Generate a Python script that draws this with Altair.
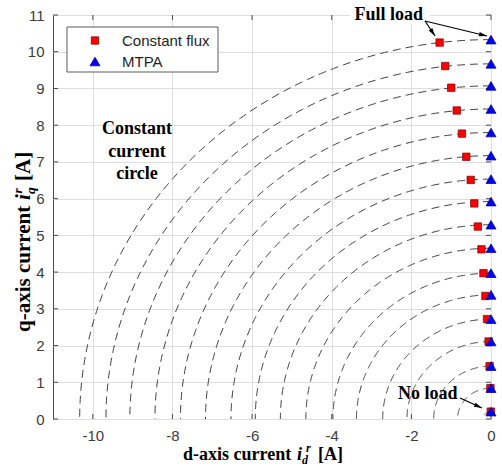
import math
import altair as alt
import numpy as np
import pandas as pd

# ---------------- values ----------------
series_names = ["Constant flux", "MTPA"]
mtpa_id = [0.0, 0.0, 0.0, 0.0, 0.0, 0.0, 0.0, 0.0, 0.0, 0.0, 0.0, 0.0, 0.0, 0.0, 0.0, 0.0, 0.0]
mtpa_iq = [0.20, 0.84, 1.44, 2.11, 2.72, 3.38, 3.97, 4.65, 5.29, 5.92, 6.53, 7.17, 7.80, 8.44, 9.07, 9.67, 10.33]
cf_id = [-0.005, -0.015, -0.035, -0.06, -0.10, -0.14, -0.19, -0.24, -0.33, -0.42, -0.51, -0.62, -0.73, -0.86, -1.00, -1.15, -1.29]
cf_iq = [0.20, 0.84, 1.44, 2.11, 2.72, 3.35, 3.97, 4.62, 5.24, 5.87, 6.51, 7.14, 7.77, 8.40, 9.02, 9.61, 10.25]
circle_radii = [0.20, 0.84, 1.44, 2.11, 2.72, 3.38, 3.97, 4.65, 5.29, 5.92, 6.53, 7.17, 7.80, 8.44, 9.07, 9.67, 10.33]
x_tick_values = [-10, -8, -6, -4, -2, 0]
y_tick_values = [0, 1, 2, 3, 4, 5, 6, 7, 8, 9, 10, 11]
x_domain = [-11, 0]
y_domain = [0, 11]

# ---------------- layout ----------------
W, H = 438, 404
L, T, R, B = 53, 15, 11, 47
FRAME = "#4a4a4a"
SERIF = "Liberation Serif"
SANS = "Liberation Sans"

# tables built from the arrays above
cf_df = pd.DataFrame({"id": cf_id, "iq": cf_iq, "s": series_names[0]})
mt_df = pd.DataFrame({"id": mtpa_id, "iq": mtpa_iq, "s": series_names[1]})
angles = np.linspace(0.0, 90.0, 181)
rows = []
for r in circle_radii:
    for a in angles:
        t = math.radians(a)
        rows.append({"r": r, "t": a, "id": -r * math.sin(t), "iq": r * math.cos(t)})
circ_df = pd.DataFrame(rows)
xt_df = pd.DataFrame({"id": x_tick_values})
yt_df = pd.DataFrame({"iq": y_tick_values})
one = pd.DataFrame({"k": [0]})

xs = alt.Scale(domain=x_domain, nice=False, zero=False)
ys = alt.Scale(domain=y_domain, nice=False, zero=False)

axis_common = dict(grid=True, ticks=False, domain=False, labelFlush=False,
                   labelOverlap=False, title=None, gridColor="#dedede",
                   gridWidth=1, labelFont=SANS, labelFontSize=15,
                   labelColor="#3c3c3c", labelExpr="'' + datum.value")
x_axis = alt.Axis(values=x_tick_values, labelPadding=9, **axis_common)
y_axis = alt.Axis(values=y_tick_values, labelPadding=9, **axis_common)
X = alt.X("id:Q", scale=xs, axis=x_axis)
Y = alt.Y("iq:Q", scale=ys, axis=y_axis)

circles = alt.Chart(circ_df).mark_line(
    strokeDash=[8, 5], color="#404040", strokeWidth=1
).encode(x=X, y=Y, detail="r:N", order="t:Q")

ticks = [
    alt.Chart(xt_df).mark_rule(color=FRAME, strokeWidth=1).encode(x=X, y=alt.value(H), y2=alt.value(H - 5)),
    alt.Chart(xt_df).mark_rule(color=FRAME, strokeWidth=1).encode(x=X, y=alt.value(0), y2=alt.value(5)),
    alt.Chart(yt_df).mark_rule(color=FRAME, strokeWidth=1).encode(y=Y, x=alt.value(0), x2=alt.value(5)),
    alt.Chart(yt_df).mark_rule(color=FRAME, strokeWidth=1).encode(y=Y, x=alt.value(W), x2=alt.value(W - 5)),
]

SQ_SIZE, TRI_SIZE = 55, 100
squares = alt.Chart(cf_df).mark_point(
    shape="square", filled=True, size=SQ_SIZE, color="#ff0000", stroke="#7a0000",
    strokeWidth=0.7, opacity=1,
).encode(x=X, y=Y)

triangles = alt.Chart(mt_df).mark_point(
    shape="triangle-up", filled=True, size=TRI_SIZE, color="#0000ff", stroke="#000070",
    strokeWidth=0.7, opacity=1,
).encode(x=X, y=Y)


def txt(s, x, y, **kw):
    return alt.Chart(one).mark_text(text=s, **kw).encode(
        x=alt.value(x - L), y=alt.value(y - T))


def rect(x0, y0, x1, y1, **kw):
    return alt.Chart(one).mark_rect(**kw).encode(
        x=alt.value(x0 - L), x2=alt.value(x1 - L), y=alt.value(y0 - T), y2=alt.value(y1 - T))


HEAD = "M0,0L0.55,2L-0.55,2Z"


def arrow(x0, y0, x1, y1):
    line = alt.Chart(one).mark_rule(color="black", strokeWidth=1.2).encode(
        x=alt.value(x0 - L), y=alt.value(y0 - T), x2=alt.value(x1 - L), y2=alt.value(y1 - T))
    ang = math.degrees(math.atan2(x1 - x0, -(y1 - y0))) % 360
    head = alt.Chart(one).mark_point(
        shape=HEAD, size=64, filled=True, color="black", angle=ang, opacity=1, strokeWidth=0
    ).encode(x=alt.value(x1 - L), y=alt.value(y1 - T))
    return [line, head]


# legend (drawn by hand)
legend = [
    rect(67, 27, 218, 72, fill="white", stroke="#333333", strokeWidth=0.8),
    alt.Chart(one).mark_point(shape="square", filled=True, size=SQ_SIZE, color="#ff0000",
                              stroke="#7a0000", strokeWidth=0.7, opacity=1).encode(
        x=alt.value(95 - L), y=alt.value(40.5 - T)),
    alt.Chart(one).mark_point(shape="triangle-up", filled=True, size=TRI_SIZE, color="#0000ff",
                              stroke="#000070", strokeWidth=0.7, opacity=1).encode(
        x=alt.value(95 - L), y=alt.value(61.5 - T)),
    txt(series_names[0], 122, 41, align="left", baseline="middle", font=SANS, fontSize=15, color="#1e1e1e"),
    txt(series_names[1], 122, 62, align="left", baseline="middle", font=SANS, fontSize=15, color="#1e1e1e"),
]

bold = dict(font=SERIF, fontWeight="bold", color="black")
annotations = [
    rect(350, 2, 430, 24, fill="white"),
    txt("Full load", 423, 20, align="right", baseline="alphabetic", fontSize=18, **bold),
    *arrow(425, 21, 435, 36),
    *arrow(425, 21, 487, 36),
    txt("No load", 398, 399, align="left", baseline="alphabetic", fontSize=18, **bold),
    *arrow(460, 398, 482, 408),
    txt("Constant", 137, 134, align="center", baseline="alphabetic", fontSize=18, **bold),
    txt("current", 137, 156.5, align="center", baseline="alphabetic", fontSize=18, **bold),
    txt("circle", 137, 179, align="center", baseline="alphabetic", fontSize=18, **bold),
]

# axis titles with italic sub/superscripts
rot = dict(align="left", baseline="alphabetic", angle=270)
titles = [
    txt("d-axis current", 183, 460, align="left", baseline="alphabetic", fontSize=18, **bold),
    txt("i", 297, 460, align="left", baseline="alphabetic", fontSize=18, fontStyle="italic", **bold),
    txt("d", 302, 463.5, align="left", baseline="alphabetic", fontSize=12, fontStyle="italic", **bold),
    txt("r", 306, 452, align="left", baseline="alphabetic", fontSize=12, fontStyle="italic", **bold),
    txt("[A]", 318, 460, align="left", baseline="alphabetic", fontSize=18, **bold),
    txt("q-axis current", 30, 332, fontSize=21, **rot, **bold),
    txt("i", 30, 200, fontSize=21, fontStyle="italic", **rot, **bold),
    txt("q", 34.5, 194, fontSize=13.5, fontStyle="italic", **rot, **bold),
    txt("r", 21.5, 193.5, fontSize=13.5, fontStyle="italic", **rot, **bold),
    txt("[A]", 30, 181, fontSize=21, **rot, **bold),
]

chart = alt.layer(
    circles, *ticks, squares, triangles, *legend, *annotations, *titles
).properties(
    width=W, height=H,
    padding={"left": L, "top": T, "right": R, "bottom": B},
    autosize=alt.AutoSizeParams(type="none"),
    background="white",
).configure_view(stroke=FRAME, strokeWidth=1)

chart.save("out.html", embed_options={"renderer": "svg", "actions": False})
